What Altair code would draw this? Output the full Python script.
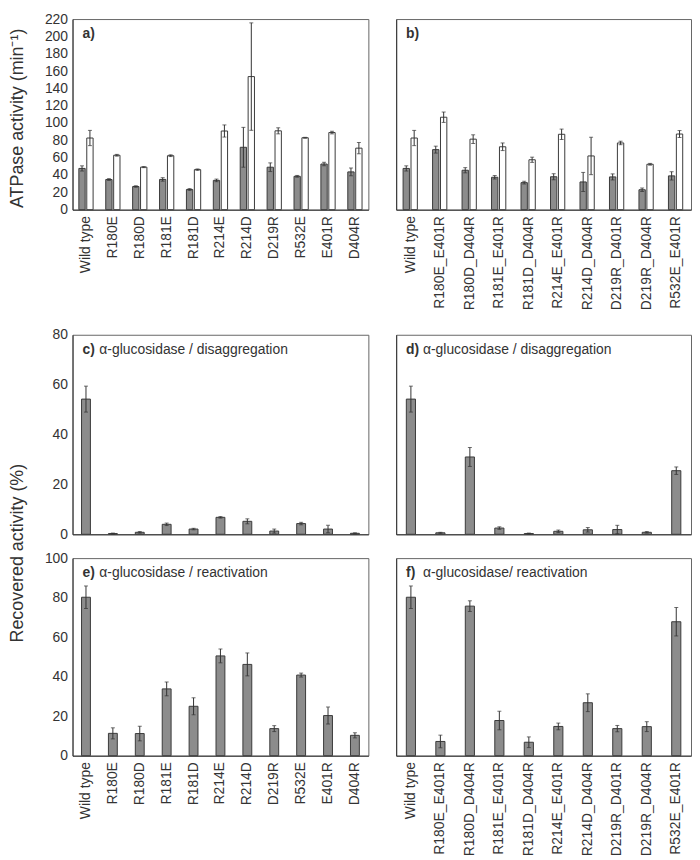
import altair as alt
import pandas as pd

# ---------------- data ----------------
cats_single = ["Wild type", "R180E", "R180D", "R181E", "R181D", "R214E",
               "R214D", "D219R", "R532E", "E401R", "D404R"]
cats_double = ["Wild type", "R180E_E401R", "R180D_D404R", "R181E_E401R",
               "R181D_D404R", "R214E_E401R", "R214D_D404R", "D219R_D401R",
               "D219R_D404R", "R532E_E401R"]

atp_a_gray = [47.6, 34.8, 26.7, 34.9, 23.3, 33.8, 72.0, 49.0, 38.5, 52.7, 43.6]
atp_a_gray_err = [3.0, 1.0, 0.8, 2.0, 1.0, 1.5, 23.0, 5.0, 1.0, 2.0, 4.5]
atp_a_white = [82.7, 62.8, 49.1, 62.3, 46.2, 90.8, 153.6, 91.0, 83.0, 89.0, 71.0]
atp_a_white_err = [8.8, 1.0, 0.6, 1.0, 0.8, 7.0, 62.0, 3.5, 0.5, 1.5, 6.5]

atp_b_gray = [47.6, 69.3, 45.5, 37.4, 31.2, 38.0, 32.0, 37.8, 23.0, 39.0]
atp_b_gray_err = [3.0, 4.0, 3.0, 2.0, 1.5, 3.5, 11.0, 3.5, 2.0, 4.8]
atp_b_white = [82.7, 106.7, 81.4, 72.6, 57.6, 87.0, 62.0, 77.0, 52.4, 87.3]
atp_b_white_err = [8.8, 6.0, 5.0, 4.4, 3.0, 6.0, 21.6, 2.0, 1.0, 4.0]

disagg_c = [54.2, 0.3, 0.8, 4.0, 2.1, 6.8, 5.2, 1.3, 4.3, 2.1, 0.4]
disagg_c_err = [5.2, 0.2, 0.3, 0.5, 0.3, 0.3, 1.0, 0.8, 0.5, 1.5, 0.2]
disagg_d = [54.2, 0.6, 31.0, 2.5, 0.3, 1.2, 1.8, 1.9, 0.8, 25.5]
disagg_d_err = [5.2, 0.2, 3.8, 0.5, 0.2, 0.5, 0.9, 1.7, 0.3, 1.5]

react_e = [80.2, 11.3, 11.2, 33.8, 25.0, 50.5, 46.2, 13.7, 40.8, 20.3, 10.3]
react_e_err = [5.7, 2.8, 3.7, 3.5, 4.3, 3.5, 5.8, 1.5, 1.0, 4.3, 1.3]
react_f = [80.2, 7.2, 75.7, 17.8, 6.8, 14.8, 26.8, 13.7, 14.7, 67.8]
react_f_err = [5.7, 3.2, 2.7, 4.7, 2.7, 1.7, 4.5, 1.6, 2.5, 7.2]

ticks_atp = [0, 20, 40, 60, 80, 100, 120, 140, 160, 180, 200, 220]
ticks_disagg = [0, 20, 40, 60, 80]
ticks_react = [0, 20, 40, 60, 80, 100]

series_names = ["gray", "white"]
title_atp = "ATPase activity (min⁻¹)"
title_rec = "Recovered activity (%)"

FONT = "Liberation Sans"
TXT = "#333333"
EDGE = "#3a3a3a"
GRAY = "#8c8c8c"

W_L, W_R = 298, 297
H1, H2, H3 = 192, 201, 199
X_EXT = 109


def y_axis(values, show):
    if not show:
        return alt.Axis(values=values, labels=False, ticks=False, domain=True,
                        grid=False, title=None)
    return alt.Axis(values=values, labels=True, ticks=False, domain=True,
                    grid=False, labelPadding=5, minExtent=32, maxExtent=32,
                    labelOverlap=False, labelFlush=False, title=None)


def x_axis(show):
    if show:
        return alt.Axis(labelAngle=270, labelAlign="right",
                        labelBaseline="middle", ticks=False, domain=True,
                        labelPadding=6, grid=False, minExtent=X_EXT,
                        maxExtent=X_EXT, labelOverlap=False, title=None)
    return alt.Axis(labels=False, ticks=False, domain=True, grid=False,
                    title=None)


def label_layers(bold, normal):
    layers = [alt.Chart(pd.DataFrame({"t": [bold]})).mark_text(
        font=FONT, fontSize=14, fontWeight="bold", color=TXT, align="left",
        baseline="middle").encode(text="t:N", x=alt.value(10), y=alt.value(15))]
    if normal:
        layers.append(alt.Chart(pd.DataFrame({"t": [normal]})).mark_text(
            font=FONT, fontSize=14, color=TXT, align="left",
            baseline="middle").encode(text="t:N", x=alt.value(27),
                                      y=alt.value(15)))
    return layers


def grouped_panel(cats, gray, gray_err, white, white_err, domain, ticks,
                  show_y, label, width, height):
    rows = []
    for c, g, ge, w, we in zip(cats, gray, gray_err, white, white_err):
        rows.append({"cat": c, "series": series_names[0], "value": g,
                     "lo": g - ge, "hi": g + ge})
        rows.append({"cat": c, "series": series_names[1], "value": w,
                     "lo": w - we, "hi": w + we})
    df = pd.DataFrame(rows)
    x = alt.X("cat:N", sort=cats, title=None,
              scale=alt.Scale(paddingInner=0.47, paddingOuter=0.235),
              axis=x_axis(True))
    xo = alt.XOffset("series:N", sort=series_names,
                     scale=alt.Scale(paddingInner=0.2))
    yscale = alt.Scale(domain=domain, nice=False)
    yax = y_axis(ticks, show_y)
    base = alt.Chart(df)
    bars = base.mark_bar(stroke=EDGE, strokeWidth=1).encode(
        x=x, xOffset=xo,
        y=alt.Y("value:Q", scale=yscale, title=None, axis=yax),
        fill=alt.Fill("series:N", scale=alt.Scale(domain=series_names,
                                                  range=[GRAY, "#ffffff"]),
                      legend=None))
    err = base.mark_rule(color="#333333", strokeWidth=1).encode(
        x=x, xOffset=xo, y=alt.Y("lo:Q", scale=yscale, title=None, axis=yax),
        y2="hi:Q")
    cap_lo = base.mark_tick(color="#333333", size=4, thickness=1).encode(
        x=x, xOffset=xo, y=alt.Y("lo:Q", scale=yscale, title=None, axis=yax))
    cap_hi = base.mark_tick(color="#333333", size=4, thickness=1).encode(
        x=x, xOffset=xo, y=alt.Y("hi:Q", scale=yscale, title=None, axis=yax))
    return alt.layer(bars, err, cap_lo, cap_hi,
                     *label_layers(label, None)).properties(
        width=width, height=height)


def single_panel(cats, vals, errs, domain, ticks, show_y, show_x, bold,
                 normal, width, height, pad_inner):
    df = pd.DataFrame({"cat": cats, "value": vals,
                       "lo": [v - e for v, e in zip(vals, errs)],
                       "hi": [v + e for v, e in zip(vals, errs)]})
    x = alt.X("cat:N", sort=cats, title=None,
              scale=alt.Scale(paddingInner=pad_inner,
                              paddingOuter=pad_inner / 2),
              axis=x_axis(show_x))
    yscale = alt.Scale(domain=domain, nice=False)
    yax = y_axis(ticks, show_y)
    base = alt.Chart(df)
    bars = base.mark_bar(fill=GRAY, stroke=EDGE, strokeWidth=1).encode(
        x=x, y=alt.Y("value:Q", scale=yscale, title=None, axis=yax))
    err = base.mark_rule(color="#333333", strokeWidth=1).encode(
        x=x, y=alt.Y("lo:Q", scale=yscale, title=None, axis=yax), y2="hi:Q")
    cap_lo = base.mark_tick(color="#333333", size=4, thickness=1).encode(
        x=x, y=alt.Y("lo:Q", scale=yscale, title=None, axis=yax))
    cap_hi = base.mark_tick(color="#333333", size=4, thickness=1).encode(
        x=x, y=alt.Y("hi:Q", scale=yscale, title=None, axis=yax))
    return alt.layer(bars, err, cap_lo, cap_hi,
                     *label_layers(bold, normal)).properties(
        width=width, height=height)


pa = grouped_panel(cats_single, atp_a_gray, atp_a_gray_err, atp_a_white,
                   atp_a_white_err, [0, 220], ticks_atp, True, "a)", W_L, H1)
pb = grouped_panel(cats_double, atp_b_gray, atp_b_gray_err, atp_b_white,
                   atp_b_white_err, [0, 220], ticks_atp, False, "b)", W_R, H1)

pc = single_panel(cats_single, disagg_c, disagg_c_err, [0, 80], ticks_disagg,
                  True, False, "c)", "α-glucosidase / disaggregation",
                  W_L, H2, 0.67)
pd_ = single_panel(cats_double, disagg_d, disagg_d_err, [0, 80], ticks_disagg,
                   False, False, "d)", "α-glucosidase / disaggregation",
                   W_R, H2, 0.69)

pe = single_panel(cats_single, react_e, react_e_err, [0, 100], ticks_react,
                  True, True, "e)", "α-glucosidase / reactivation",
                  W_L, H3, 0.67)
pf = single_panel(cats_double, react_f, react_f_err, [0, 100], ticks_react,
                  False, True, "f)", "α-glucosidase/ reactivation",
                  W_R, H3, 0.69)

row1 = alt.hconcat(pa, pb, spacing=26)
row2 = alt.hconcat(pc, pd_, spacing=26)
row3 = alt.hconcat(pe, pf, spacing=26)
grid = alt.vconcat(row1, row2, row3, spacing=8)

t1 = alt.Chart(pd.DataFrame({"t": [title_atp]})).mark_text(
    font=FONT, fontSize=18, color=TXT, angle=270, align="center",
    baseline="middle").encode(text="t:N", x=alt.value(9), y=alt.value(100))
t2 = alt.Chart(pd.DataFrame({"t": [title_rec]})).mark_text(
    font=FONT, fontSize=18, color=TXT, angle=270, align="center",
    baseline="middle").encode(text="t:N", x=alt.value(9), y=alt.value(538))
titles = alt.layer(t1, t2).properties(
    width=18, height=760, view=alt.ViewBackground(strokeOpacity=0))

chart = alt.hconcat(titles, grid, spacing=12).properties(
    padding=0
).configure_view(
    stroke="#666666", strokeWidth=1
).configure_axis(
    labelFont=FONT, labelFontSize=14, labelColor=TXT,
    domainColor="#333333", domainWidth=1, labelOverlap=False
)

chart.save("out.html", embed_options={"renderer": "svg", "actions": False})
